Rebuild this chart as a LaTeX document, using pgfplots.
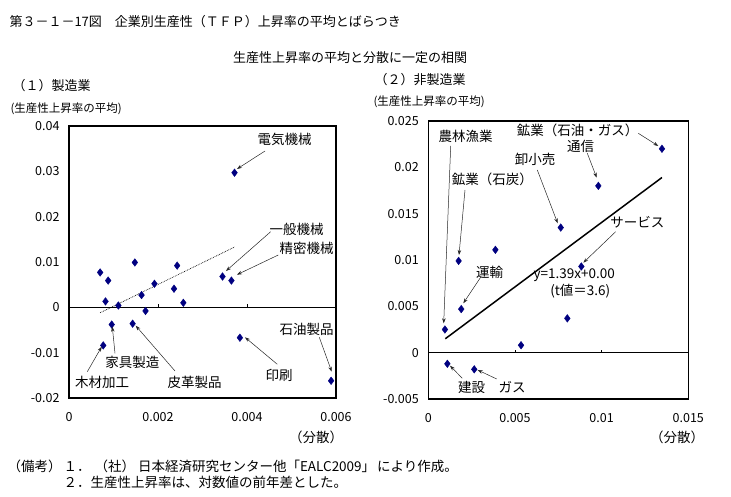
\documentclass[border=0pt]{standalone}
\usepackage{fontspec}
\setmainfont{Noto Sans CJK JP}
\usepackage{pgfplots}
\pgfplotsset{compat=1.18}
\usetikzlibrary{arrows.meta}
\definecolor{navy}{HTML}{000080}
\newcommand\bigf{\fontsize{13}{15}\selectfont}
\newcommand\lab{\fontsize{13.5}{15}\selectfont}
\newcommand\sml{\fontsize{11.5}{13}\selectfont}
\newcommand\tk{\fontsize{12.5}{14}\selectfont}

\pgfplotsset{
  panel/.style={
    scale only axis,
    anchor=south west,
    axis line style={line width=1.6pt},
    major tick length=0pt,
    scaled ticks=false,
    yticklabel style={font=\tk, xshift=-6pt},
    xticklabel style={font=\tk, yshift=-11pt},
    clip=false,
  },
}

\begin{document}
\begin{tikzpicture}[x=1pt,y=1pt]
\path[use as bounding box] (0,0) rectangle (731,497);

% (1) manufacturing
\begin{axis}[panel, at={(69pt,99pt)}, width=267pt, height=272pt,
  xmin=0, xmax=0.006, ymin=-0.02, ymax=0.04,
  xtick={0,0.002,0.004,0.006}, xticklabels={0,0.002,0.004,0.006},
  ytick={-0.02,-0.01,0,0.01,0.02,0.03,0.04},
  yticklabels={-0.02,-0.01,0,0.01,0.02,0.03,0.04}]
\draw[line width=0.8pt] (axis cs:0,0) -- (axis cs:0.006,0);
\draw[line width=0.8pt] (axis cs:0.002,0) -- ++(0pt,3pt);
\draw[line width=0.8pt] (axis cs:0.004,0) -- ++(0pt,3pt);
\addplot[black, densely dotted, line width=0.7pt] coordinates {(0.0007,-0.0012) (0.00372,0.0133)};
\addplot[only marks, mark=diamond*, mark size=3.8pt, navy] coordinates {
(0.00372,0.0297) (0.00070,0.0077) (0.00088,0.0059) (0.00148,0.0099)
(0.00082,0.0013) (0.00111,0.0004) (0.00163,0.0027) (0.00192,0.0052)
(0.00243,0.0092) (0.00236,0.0041) (0.00257,0.0010) (0.00172,-0.0008)
(0.00345,0.0068) (0.00365,0.0059) (0.00096,-0.0038) (0.00143,-0.0036)
(0.00077,-0.0084) (0.00384,-0.0067) (0.00589,-0.0162)};
\end{axis}

% (2) non-manufacturing
\begin{axis}[panel, at={(428.3pt,98pt)}, width=260pt, height=278pt,
  xmin=0, xmax=0.015, ymin=-0.005, ymax=0.025,
  xtick={0,0.005,0.01,0.015}, xticklabels={0,0.005,0.01,0.015},
  ytick={-0.005,0,0.005,0.01,0.015,0.02,0.025},
  yticklabels={-0.005,0,0.005,0.01,0.015,0.02,0.025}]
\draw[line width=0.8pt] (axis cs:0,0) -- (axis cs:0.015,0);
\draw[line width=0.8pt] (axis cs:0.005,0) -- ++(0pt,3pt);
\draw[line width=0.8pt] (axis cs:0.01,0) -- ++(0pt,3pt);
\node[font=\lab] at (axis cs:0.00842,0.0084) {y=1.39x+0.00};
\node[font=\lab] at (axis cs:0.00877,0.0066) {(t値＝3.6)};
\addplot[black, line width=1.5pt] coordinates {(0.00098,0.0015) (0.01348,0.0189)};
\addplot[only marks, mark=diamond*, mark size=3.8pt, navy] coordinates {
(0.01348,0.0220) (0.00981,0.0180) (0.00764,0.0135) (0.00175,0.0099)
(0.00387,0.0111) (0.00883,0.0093) (0.00190,0.0047) (0.00096,0.0025)
(0.00535,0.0008) (0.00802,0.0037) (0.00110,-0.0012) (0.00265,-0.0018)};
\end{axis}

% titles and notes
\node[anchor=west, font=\bigf] at (6,{497-22}) {第３－１－17図　企業別生産性（ＴＦＰ）上昇率の平均とばらつき};
\node[font=\bigf] at (350,{497-58}) {生産性上昇率の平均と分散に一定の相関};
\node[anchor=west, font=\bigf] at (9,{497-86}) {（１）製造業};
\node[anchor=west, font=\sml] at (7,{497-109}) {(生産性上昇率の平均)};
\node[anchor=west, font=\bigf] at (371,{497-80}) {（２）非製造業};
\node[anchor=west, font=\sml] at (370,{497-102}) {(生産性上昇率の平均)};
\node[font=\lab] at (316,{497-437}) {（分散）};
\node[font=\lab] at (677,{497-437}) {（分散）};
\node[anchor=west, font=\lab] at (4,{497-466}) {（備考）};
\node[anchor=west, font=\lab] at (60,{497-466}) {１．\kern4pt（社）\kern3pt日本経済研究センター他「EALC2009」\kern2ptにより作成。};
\node[anchor=west, font=\lab] at (60,{497-482}) {２．生産性上昇率は、対数値の前年差とした。};

% annotations, left panel
\tikzset{ar/.style={-{Stealth[length=5pt,width=3.5pt]}, black!85, line width=0.5pt}}
\node[font=\lab] at (284.5,{497-139}) {電気機械};
\draw[ar] (265,{497-151}) -- (237,{497-169});
\node[font=\lab] at (296.5,{497-229}) {一般機械};
\draw[ar] (270.7,{497-231.7}) -- (226,{497-271});
\node[font=\lab] at (306.7,{497-248.7}) {精密機械};
\draw[ar] (278.3,{497-255}) -- (237,{497-274.7});
\node[font=\lab] at (306.7,{497-329}) {石油製品};
\draw[ar] (319.3,{497-337.3}) -- (331.7,{497-371.7});
\node[font=\lab] at (279,{497-375}) {印刷};
\draw[ar] (277.3,{497-364.3}) -- (245,{497-337.3});
\node[font=\lab] at (194.7,{497-382}) {皮革製品};
\draw[ar] (175,{497-371}) -- (135.7,{497-325.7});
\node[font=\lab] at (132.3,{497-362.3}) {家具製造};
\draw[ar] (115,{497-353.3}) -- (112.3,{497-326.7});
\node[font=\lab] at (102,{497-382}) {木材加工};
\draw[ar] (87.3,{497-371.7}) -- (101.7,{497-346.7});

% annotations, right panel
\node[font=\lab] at (465.7,{497-136}) {農林漁業};
\draw[ar] (450.7,{497-146}) -- (443.7,{497-323.3});
\node[font=\lab] at (492.3,{497-179}) {鉱業（石炭）};
\draw[ar] (465,{497-190}) -- (459,{497-255});
\node[font=\lab] at (535,{497-159}) {卸小売};
\draw[ar] (537.3,{497-170}) -- (557.7,{497-223.3});
\node[font=\lab] at (577.7,{497-130.7}) {鉱業（石油・ガス）};
\draw[ar] (638.3,{497-133.3}) -- (658.3,{497-146});
\node[font=\lab] at (580.7,{497-146.7}) {通信};
\draw[ar] (587.3,{497-153.3}) -- (596.7,{497-177.7});
\node[font=\lab] at (637.3,{497-222.3}) {サービス};
\draw[ar] (615.7,{497-231.7}) -- (583.3,{497-262.7});
\node[font=\lab] at (489.7,{497-272}) {運輸};
\draw[ar] (481,{497-276.7}) -- (463.3,{497-303.3});
\node[font=\lab] at (471.7,{497-387.3}) {建設};
\draw[ar] (462.3,{497-378.3}) -- (450,{497-365.7});
\node[font=\lab] at (512,{497-387.3}) {ガス};
\draw[ar] (496.7,{497-379}) -- (477.7,{497-370});
\end{tikzpicture}
\end{document}
